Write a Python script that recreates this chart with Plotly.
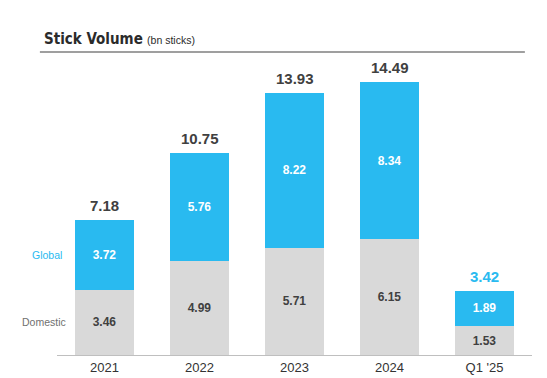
import plotly.graph_objects as go

categories = ["2021", "2022", "2023", "2024", "Q1 '25"]
domestic = [3.46, 4.99, 5.71, 6.15, 1.53]
global_ = [3.72, 5.76, 8.22, 8.34, 1.89]
totals = [7.18, 10.75, 13.93, 14.49, 3.42]

BLUE = "#29BAF0"
GRAY = "#D9D9D9"
DARK = "#404040"
FONT = "Arial, Liberation Sans"

fig = go.Figure()
fig.add_trace(go.Bar(
    x=categories, y=domestic, marker=dict(color=GRAY, line=dict(width=0)),
    text=[f"{v:.2f}" for v in domestic], textposition="inside", insidetextanchor="middle",
    textfont=dict(family=FONT, size=12, color=DARK, weight="bold"),
    width=0.63, name="Domestic", hoverinfo="skip"))
fig.add_trace(go.Bar(
    x=categories, y=global_, marker=dict(color=BLUE, line=dict(width=0)),
    text=[f"{v:.2f}" for v in global_], textposition="inside", insidetextanchor="middle",
    textfont=dict(family=FONT, size=12, color="white", weight="bold"),
    width=0.63, name="Global", hoverinfo="skip"))

for i, t in enumerate(totals):
    fig.add_annotation(x=i, y=t, xref="x", yref="y", text=f"<b>{t:.2f}</b>", showarrow=False,
                       yanchor="bottom", yshift=4,
                       font=dict(family=FONT, size=15, color=BLUE if i == 4 else DARK))

# series labels to the left of first bar
fig.add_annotation(x=0, y=domestic[0] + global_[0] / 2, xref="paper", yref="y",
                   text="Global", showarrow=False, xanchor="right", xshift=7,
                   font=dict(family=FONT, size=10.5, color=BLUE))
fig.add_annotation(x=0, y=domestic[0] / 2, xref="paper", yref="y",
                   text="Domestic", showarrow=False, xanchor="right", xshift=11,
                   font=dict(family=FONT, size=10.5, color="#707070"))

# title
fig.add_annotation(x=-0.031, y=1.005, xref="paper", yref="paper", xanchor="left", yanchor="bottom",
                   text="<b>Stick Volume</b> <span style='font-size:10.5px;font-family:Arial,Liberation Sans'>(bn sticks)</span>",
                   showarrow=False,
                   font=dict(family="DejaVu Sans Condensed, Arial Narrow, Arial", size=15, color="#2b2b2b"))
fig.add_shape(type="line", xref="paper", yref="paper", x0=-0.036, x1=0.985, y0=1, y1=1,
              line=dict(color="#7f7f7f", width=1.3))

fig.update_layout(
    barmode="stack", width=547, height=387,
    margin=dict(l=57, r=15, t=52, b=27),
    paper_bgcolor="white", plot_bgcolor="white", showlegend=False,
    xaxis=dict(type="category", showline=True, linecolor="#BFBFBF", linewidth=1, ticks="",
               tickfont=dict(family=FONT, size=13, color="#333333"),
               range=[-0.5, 4.5]),
    yaxis=dict(visible=False, range=[0, 16.1]),
)
fig.write_html("out.html", config={"displayModeBar": False},
               post_script="document.body.style.margin='0';document.body.style.overflow='hidden';")
